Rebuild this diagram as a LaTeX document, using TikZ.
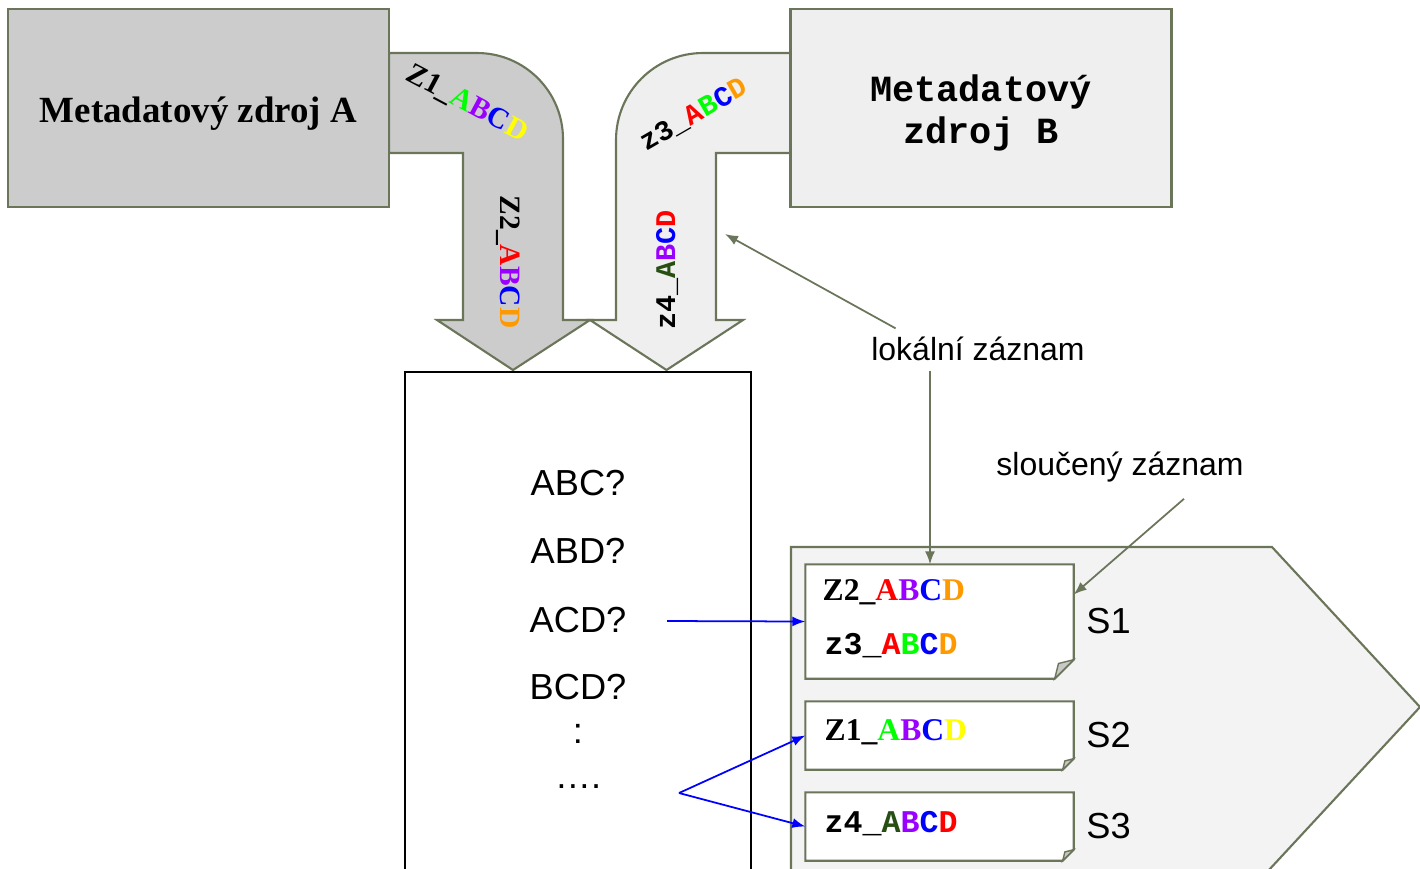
\documentclass[tikz,border=0pt]{standalone}
\usepackage{fontspec}
\setmainfont{Liberation Sans}
\newfontfamily\timesfont{Liberation Serif}
\newfontfamily\courfont{Liberation Mono}
\usetikzlibrary{positioning, arrows.meta}
\definecolor{olivegray}{RGB}{106,117,90}
\definecolor{srcAfill}{RGB}{204,204,204}
\definecolor{srcBfill}{RGB}{239,239,239}
\definecolor{panelfill}{RGB}{243,243,243}
\definecolor{foldgray}{RGB}{200,200,200}
\definecolor{cgreen}{RGB}{0,255,0}
\definecolor{cpurple}{RGB}{153,0,255}
\definecolor{cblue}{RGB}{0,0,255}
\definecolor{cyellow}{RGB}{255,255,0}
\definecolor{cred}{RGB}{255,0,0}
\definecolor{corange}{RGB}{255,153,0}
\definecolor{cdkgreen}{RGB}{39,78,19}
\newcommand{\zrec}[5]{#1\_\textcolor{#2}{A}\textcolor{#3}{B}\textcolor{#4}{C}\textcolor{#5}{D}}

\begin{document}
\begin{tikzpicture}[
    srcbox/.style={rectangle, draw=olivegray, line width=0.6pt, minimum width=3.81cm, minimum height=1.98cm},
    pipe/.style={draw=olivegray, line width=0.6pt},
    recbox/.style={rectangle, minimum width=2.67cm, inner sep=0pt},
    rectimes/.style={anchor=west, inner sep=0pt, font=\timesfont\bfseries\fontsize{9}{11}\selectfont},
    reccour/.style={anchor=west, inner sep=0pt, font=\courfont\bfseries\fontsize{9}{11}\selectfont},
    flowtimes/.style={inner sep=0pt, font=\timesfont\bfseries\fontsize{8.4}{10}\selectfont},
    flowcour/.style={inner sep=0pt, font=\courfont\bfseries\fontsize{8.1}{10}\selectfont},
    qtext/.style={inner sep=0pt, font=\fontsize{10.3}{12}\selectfont},
    notelabel/.style={inner sep=0pt, font=\fontsize{9.1}{11}\selectfont},
    olivearr/.style={-{Latex[length=1.3mm, width=1mm]}, draw=olivegray, line width=0.5pt},
    bluearr/.style={-{Latex[length=1.3mm, width=1mm]}, draw=cblue, line width=0.5pt}
]
    \useasboundingbox (0,0) rectangle (14.2,-8.68);

    % === TOKY ZE ZDROJU ===
    \filldraw[pipe, fill=srcAfill] (3.89,-0.53) -- (4.77,-0.53) arc[start angle=90, end angle=0, radius=0.86]
        -- (5.63,-3.20) -- (5.90,-3.20) -- (5.13,-3.70) -- (4.37,-3.20) -- (4.63,-3.20)
        -- (4.63,-1.53) -- (3.89,-1.53) -- cycle;
    \filldraw[pipe, fill=srcBfill] (7.91,-0.53) -- (7.03,-0.53) arc[start angle=90, end angle=180, radius=0.87]
        -- (6.16,-3.20) -- (5.90,-3.20) -- (6.665,-3.70) -- (7.43,-3.20) -- (7.16,-3.20)
        -- (7.16,-1.53) -- (7.91,-1.53) -- cycle;

    % === ZDROJE ===
    \node[srcbox, fill=srcAfill] (srcA) at (1.985,-1.08) {};
    \node[font=\timesfont\bfseries\fontsize{10.5}{12.6}\selectfont] (titleA) at ([yshift=-0.06cm]srcA.center) {Metadatový zdroj A};
    \node[srcbox, fill=srcBfill] (srcB) at (9.81,-1.08) {};
    \node[font=\courfont\bfseries\fontsize{10.5}{12.2}\selectfont, align=center] (titleB) at ([yshift=-0.05cm]srcB.center) {Metadatový\\zdroj B};

    % zaznamy v tocich
    \node[flowtimes, rotate=-28] (z1flow) at (4.67,-1.04) {\zrec{Z1}{cgreen}{cpurple}{cblue}{cyellow}};
    \node[flowcour, rotate=30] (z3flow) at (6.94,-1.15) {\zrec{z3}{cred}{cgreen}{cblue}{corange}};
    \node[flowtimes, rotate=-90] (z2flow) at (5.08,-2.62) {\zrec{Z2}{cred}{cpurple}{cblue}{corange}};
    \node[flowcour, rotate=90] (z4flow) at (6.67,-2.70) {\zrec{z4}{cdkgreen}{cpurple}{cblue}{cred}};

    % === POROVNANI ===
    \node[draw=black, line width=0.6pt, minimum width=3.46cm, minimum height=5.3cm, anchor=north, inner sep=0pt] (qbox) at (5.78,-3.71) {};
    \node[qtext] (qABC) at (5.78,-4.83) {ABC?};
    \node[qtext] (qABD) at (5.78,-5.51) {ABD?};
    \node[qtext] (qACD) at (5.78,-6.20) {ACD?};
    \node[qtext] (qBCD) at (5.78,-6.87) {BCD?};
    \node[qtext] (qcolon) at (5.78,-7.34) {:};
    \node[qtext] (qdots) at (5.78,-7.87) {….};

    % === SLOUCENE ZAZNAMY ===
    \filldraw[pipe, fill=panelfill] (7.91,-5.47) -- (12.72,-5.47) -- (14.20,-7.07) -- (12.55,-8.85) -- (7.91,-8.85) -- cycle;
    \node[recbox, minimum height=1.13cm] (recS1) at (9.395,-6.215) {};
    \node[recbox, minimum height=0.67cm] (recS2) at (9.395,-7.355) {};
    \node[recbox, minimum height=0.67cm] (recS3) at (9.395,-8.265) {};
    \foreach \rname/\fsz in {recS1/0.19, recS2/0.11, recS3/0.11} {
        \filldraw[pipe, fill=white] (\rname.north west) -- (\rname.north east) -- ([yshift=\fsz cm]\rname.south east)
            -- ([xshift=-\fsz cm]\rname.south east) -- (\rname.south west) -- cycle;
        \filldraw[draw=olivegray, line width=0.4pt, fill=foldgray] ([yshift=\fsz cm]\rname.south east)
            -- ([xshift=-\fsz cm]\rname.south east) -- ([xshift=-0.8*\fsz cm, yshift=0.8*\fsz cm]\rname.south east) -- cycle;
    }
    \node[rectimes] (r1top) at (8.22,-5.92) {\zrec{Z2}{cred}{cpurple}{cblue}{corange}};
    \node[reccour] (r1bot) at (8.24,-6.46) {\zrec{z3}{cred}{cgreen}{cblue}{corange}};
    \node[rectimes] (r2txt) at (8.24,-7.32) {\zrec{Z1}{cgreen}{cpurple}{cblue}{cyellow}};
    \node[reccour] (r3txt) at (8.24,-8.24) {\zrec{z4}{cdkgreen}{cpurple}{cblue}{cred}};

    \node[qtext, right=0.12cm of recS1] (s1) {S1};
    \node[qtext, right=0.12cm of recS2] (s2) {S2};
    \node[qtext, right=0.12cm of recS3] (s3) {S3};

    % === POPISKY ===
    \node[notelabel] (lok) at (9.78,-3.49) {lokální záznam};
    \node[notelabel] (slou) at (11.20,-4.67) {sloučený záznam};
    \coordinate (shaftB) at (7.25,-2.34);
    \draw[olivearr] ([xshift=0.25cm, yshift=0.08cm]lok.north west) -- (shaftB);
    \draw[olivearr] ([xshift=-0.48cm, yshift=-0.09cm]lok.south) -- ([xshift=-0.48cm]lok.south |- recS1.north);
    \draw[olivearr] ([xshift=0.64cm, yshift=-0.16cm]slou.south) -- ([yshift=0.27cm]recS1.east);

    % === PRIRAZENI ===
    \coordinate (acdTail) at (6.67,-6.21);
    \coordinate (fork) at (6.79,-7.93);
    \draw[bluearr] (acdTail) -- (recS1.west);
    \draw[bluearr] (fork) -- (recS2.west);
    \draw[bluearr] (fork) -- (recS3.west);

\end{tikzpicture}
\end{document}
